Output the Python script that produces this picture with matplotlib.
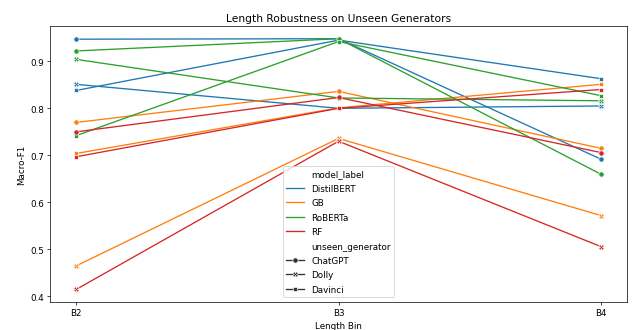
import matplotlib
matplotlib.use("Agg")
import matplotlib.pyplot as plt
import seaborn as sns
import pandas as pd

length_bins = ["B2", "B3", "B4"]
models = ["DistilBERT", "GB", "RoBERTa", "RF"]
generators = ["ChatGPT", "Dolly", "Davinci"]

# Macro-F1 per (model, generator) across length bins B2, B3, B4
distilbert_chatgpt = [0.947, 0.948, 0.692]
distilbert_dolly = [0.851, 0.800, 0.805]
distilbert_davinci = [0.838, 0.945, 0.863]

gb_chatgpt = [0.770, 0.836, 0.715]
gb_dolly = [0.465, 0.736, 0.572]
gb_davinci = [0.704, 0.801, 0.851]

roberta_chatgpt = [0.922, 0.948, 0.660]
roberta_dolly = [0.904, 0.822, 0.816]
roberta_davinci = [0.742, 0.942, 0.827]

rf_chatgpt = [0.750, 0.823, 0.706]
rf_dolly = [0.415, 0.730, 0.506]
rf_davinci = [0.697, 0.800, 0.840]

series = {
    ("DistilBERT", "ChatGPT"): distilbert_chatgpt,
    ("DistilBERT", "Dolly"): distilbert_dolly,
    ("DistilBERT", "Davinci"): distilbert_davinci,
    ("GB", "ChatGPT"): gb_chatgpt,
    ("GB", "Dolly"): gb_dolly,
    ("GB", "Davinci"): gb_davinci,
    ("RoBERTa", "ChatGPT"): roberta_chatgpt,
    ("RoBERTa", "Dolly"): roberta_dolly,
    ("RoBERTa", "Davinci"): roberta_davinci,
    ("RF", "ChatGPT"): rf_chatgpt,
    ("RF", "Dolly"): rf_dolly,
    ("RF", "Davinci"): rf_davinci,
}

rows = []
for m in models:
    for g in generators:
        for b, v in zip(length_bins, series[(m, g)]):
            rows.append({"model_label": m, "unseen_generator": g,
                         "length_bin": b, "macro_f1": v})
df = pd.DataFrame(rows)

fig, ax = plt.subplots(figsize=(10, 5.22), dpi=63.4)
sns.lineplot(data=df, x="length_bin", y="macro_f1", hue="model_label",
             style="unseen_generator", markers=True, dashes=False,
             hue_order=models, style_order=generators, ax=ax)
ax.set_title("Length Robustness on Unseen Generators")
ax.set_xlabel("Length Bin")
ax.set_ylabel("Macro-F1")
sns.move_legend(ax, "lower center", labelspacing=0.62)
fig.subplots_adjust(left=0.079, right=0.989, top=0.918, bottom=0.085)
fig.savefig("out.png", dpi=63.4)
